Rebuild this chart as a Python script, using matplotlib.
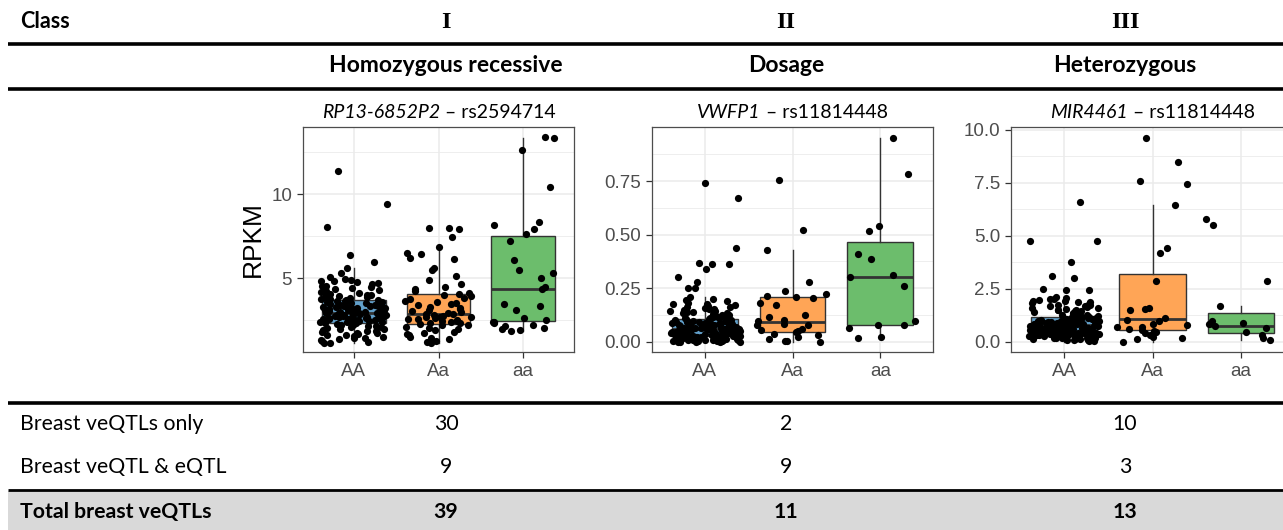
import numpy as np
import matplotlib
matplotlib.use("Agg")
import matplotlib.pyplot as plt
from matplotlib.patches import Rectangle

# ---------------- data ----------------
classes = ["I", "II", "III"]
class_names = ["Homozygous recessive", "Dosage", "Heterozygous"]
genes = ["RP13-6852P2", "VWFP1", "MIR4461"]
snps = ["rs2594714", "rs11814448", "rs11814448"]
genotypes = ["AA", "Aa", "aa"]
row_labels = ["Breast veQTLs only", "Breast veQTL & eQTL", "Total breast veQTLs"]
veqtl_only = [30, 2, 10]
veqtl_eqtl = [9, 9, 3]
veqtl_total = [39, 11, 13]

# panel 1: RP13-6852P2 - rs2594714
p1_AA = [11.4, 9.4, 8.02, 6.4, 5.97, 5.58, 5.3, 5.08, 4.95, 4.9, 4.84, 4.8, 4.74, 4.68, 4.62, 4.55,
         4.5, 4.46, 4.4, 4.33, 4.25, 4.21, 4.15, 4.1, 4.04, 4.0, 3.97, 3.92, 3.88, 3.84, 3.8, 3.76,
         3.72, 3.7, 3.66, 3.63, 3.61, 3.58, 3.55, 3.52, 3.5, 3.47, 3.44, 3.41, 3.38, 3.36, 3.33, 3.3,
         3.28, 3.25, 3.22, 3.2, 3.18, 3.15, 3.12, 3.1, 3.08, 3.05, 3.02, 3.0, 2.98, 2.96, 2.94, 2.91,
         2.89, 2.87, 2.85, 2.83, 2.8, 2.78, 2.76, 2.74, 2.72, 2.7, 2.68, 2.66, 2.64, 2.62, 2.6, 2.58,
         2.56, 2.54, 2.52, 2.5, 2.48, 2.46, 2.44, 2.42, 2.4, 2.38, 2.36, 2.34, 2.31, 2.28, 2.25, 2.22,
         2.19, 2.16, 2.13, 2.1, 2.06, 2.02, 1.98, 1.94, 1.9, 1.86, 1.82, 1.78, 1.74, 1.7, 1.66, 1.62,
         1.58, 1.54, 1.5, 1.45, 1.4, 1.35, 1.3, 1.25, 1.2, 1.15, 1.12, 3.35, 2.9, 3.05, 2.65, 4.3]
p1_Aa = [8.0, 7.97, 7.9, 7.45, 6.83, 6.47, 6.41, 6.17, 6.12, 5.61, 5.45, 5.1, 4.9, 4.66, 4.45, 4.32,
         4.2, 4.12, 4.06, 3.98, 3.9, 3.82, 3.72, 3.6, 3.55, 3.45, 3.38, 3.3, 3.22, 3.15, 3.08, 3.02,
         2.96, 2.9, 2.87, 2.84, 2.8, 2.75, 2.7, 2.66, 2.62, 2.58, 2.53, 2.49, 2.45, 2.41, 2.37, 2.33,
         2.29, 2.26, 2.22, 2.17, 2.1, 2.02, 1.95, 1.88, 1.8, 1.72, 1.65, 1.58, 1.5, 1.42, 1.35, 1.27,
         1.2, 1.12, 2.7, 3.5]
p1_aa = [13.4, 13.35, 12.6, 10.4, 8.35, 8.15, 7.93, 7.6, 7.22, 6.05, 5.45, 5.3, 5.02, 4.45, 4.35,
         3.45, 3.35, 3.08, 2.6, 2.5, 2.4, 2.36, 2.3, 2.2, 2.12, 2.04, 1.95, 1.88, 1.82]
p1_stats = [(1.12, 2.32, 2.92, 3.69, 5.58), (1.12, 2.26, 2.86, 4.05, 6.8), (1.82, 2.44, 4.35, 7.52, 13.35)]

# panel 2: VWFP1 - rs11814448
p2_AA = [0.743, 0.67, 0.438, 0.369, 0.365, 0.362, 0.34, 0.304, 0.278, 0.253, 0.25, 0.208, 0.2, 0.197,
         0.19, 0.183, 0.178, 0.172, 0.166, 0.161, 0.157, 0.152, 0.148, 0.145, 0.141, 0.137, 0.134, 0.13,
         0.127, 0.124, 0.121, 0.118, 0.116, 0.113, 0.111, 0.109, 0.175, 0.155, 0.132, 0.119, 0.142, 0.163,
         0.105, 0.104, 0.102, 0.1, 0.099, 0.097, 0.095, 0.094, 0.092, 0.09, 0.089, 0.087, 0.086, 0.084,
         0.083, 0.081, 0.08, 0.078, 0.077, 0.075, 0.074, 0.073, 0.072, 0.07, 0.069, 0.068, 0.067, 0.066,
         0.065, 0.064, 0.063, 0.062, 0.061, 0.06, 0.085, 0.091, 0.079, 0.071, 0.098, 0.088, 0.066, 0.076,
         0.059, 0.058, 0.057, 0.056, 0.055, 0.054, 0.053, 0.052, 0.051, 0.05, 0.049, 0.048, 0.047, 0.046,
         0.045, 0.044, 0.043, 0.042, 0.041, 0.04, 0.039, 0.038, 0.037, 0.036, 0.035, 0.034, 0.033, 0.032,
         0.031, 0.03, 0.029, 0.028, 0.044, 0.05, 0.038, 0.055, 0.041, 0.047, 0.033, 0.052, 0.036, 0.058,
         0.027, 0.026, 0.025, 0.024, 0.023, 0.022, 0.021, 0.02, 0.019, 0.018, 0.017, 0.016, 0.015, 0.014,
         0.013, 0.012, 0.011, 0.01, 0.009, 0.008, 0.007, 0.006, 0.005, 0.004, 0.003, 0.002, 0.001, 0.0,
         0.0, 0.0, 0.012, 0.02, 0.006, 0.015, 0.003, 0.025, 0.009, 0.017, 0.001, 0.022, 0.004, 0.013]
p2_Aa = [0.755, 0.523, 0.427, 0.281, 0.238, 0.222, 0.215, 0.21, 0.205, 0.18, 0.17, 0.125, 0.115, 0.1,
         0.095, 0.085, 0.08, 0.078, 0.06, 0.055, 0.05, 0.045, 0.035, 0.03, 0.02, 0.012, 0.005, 0.002, 0.0]
p2_aa = [0.953, 0.785, 0.541, 0.517, 0.411, 0.386, 0.31, 0.304, 0.262, 0.099, 0.078, 0.076, 0.064, 0.02, 0.018]
p2_stats = [(0.0, 0.028, 0.06, 0.107, 0.208), (0.0, 0.047, 0.093, 0.21, 0.427), (0.018, 0.079, 0.303, 0.466, 0.953)]

# panel 3: MIR4461 - rs11814448
p3_AA = [6.59, 4.74, 4.74, 3.77, 3.1, 3.0, 2.5, 2.47, 2.45, 2.1, 2.05, 2.02, 2.0, 1.98, 1.95, 1.92, 1.88,
         1.85, 1.8, 1.76, 1.72, 1.68, 1.64, 1.6, 1.56, 1.52, 1.48, 1.45, 1.42, 1.38, 1.35, 1.32, 1.29,
         1.26, 1.23, 1.2, 1.9, 1.7, 1.5, 1.3, 1.62, 1.44,
         1.16, 1.15, 1.13, 1.12, 1.1, 1.09, 1.07, 1.06, 1.04, 1.03, 1.01, 1.0, 0.99, 0.98, 0.97, 0.96,
         0.95, 0.94, 0.93, 0.92, 0.91, 0.9, 0.89, 0.88, 0.87, 0.86, 0.85, 0.84, 0.83, 0.82, 0.81, 0.8,
         0.95, 1.05, 0.9, 1.1, 0.86, 1.0, 1.14, 0.92, 1.08, 0.84,
         0.79, 0.78, 0.77, 0.76, 0.75, 0.74, 0.73, 0.72, 0.71, 0.7, 0.69, 0.68, 0.67, 0.66, 0.65, 0.64,
         0.63, 0.62, 0.61, 0.6, 0.59, 0.58, 0.57, 0.56, 0.55, 0.54, 0.53, 0.52, 0.51, 0.5, 0.49, 0.48,
         0.6, 0.7, 0.65, 0.55, 0.77, 0.52, 0.68, 0.58, 0.73, 0.62,
         0.46, 0.45, 0.44, 0.43, 0.42, 0.41, 0.4, 0.39, 0.38, 0.37, 0.36, 0.35, 0.34, 0.33, 0.32, 0.31,
         0.3, 0.29, 0.28, 0.27, 0.26, 0.25, 0.24, 0.22, 0.2, 0.18, 0.16, 0.14, 0.12, 0.1, 0.08, 0.06,
         0.05, 0.3, 0.2, 0.4, 0.15, 0.25, 0.35, 0.11, 0.19, 0.28]
p3_Aa = [9.64, 8.48, 7.6, 7.45, 6.46, 4.44, 4.21, 2.88, 1.58, 1.56, 1.5, 1.14, 1.05, 1.0, 0.85, 0.8,
         0.72, 0.7, 0.6, 0.55, 0.5, 0.45, 0.4, 0.3, 0.25, 0.2, 0.15, 0.0]
p3_aa = [5.82, 5.52, 2.85, 1.71, 0.98, 0.9, 0.83, 0.75, 0.66, 0.45, 0.34, 0.17, 0.09]
p3_stats = [(0.0, 0.47, 0.80, 1.17, 2.1), (0.0, 0.56, 1.08, 3.19, 6.46), (0.09, 0.42, 0.75, 1.36, 1.71)]

panels = [
    dict(groups=[p1_AA, p1_Aa, p1_aa], stats=p1_stats, ylim=(0.59, 14.0),
         ticks=[5, 10], labels=["5", "10"], minor=[2.5, 7.5, 12.5]),
    dict(groups=[p2_AA, p2_Aa, p2_aa], stats=p2_stats, ylim=(-0.048, 1.003),
         ticks=[0, 0.25, 0.5, 0.75], labels=["0.00", "0.25", "0.50", "0.75"],
         minor=[0.125, 0.375, 0.625, 0.875]),
    dict(groups=[p3_AA, p3_Aa, p3_aa], stats=p3_stats, ylim=(-0.48, 10.14),
         ticks=[0, 2.5, 5, 7.5, 10], labels=["0.0", "2.5", "5.0", "7.5", "10.0"],
         minor=[1.25, 3.75, 6.25, 8.75]),
]

# ---------------- layout ----------------
W, H = 1283, 530
fig = plt.figure(figsize=(W / 100, H / 100), dpi=100)
fig.patch.set_facecolor("white")

ax0 = fig.add_axes([0, 0, 1, 1], zorder=0)
ax0.set_xlim(0, W)
ax0.set_ylim(H, 0)
ax0.axis("off")

TXT = "Lato"
box_colors = ["#62a0ca", "#ffa556", "#6cbd6c"]
col_x = [446, 786, 1125]

# header row
ax0.text(20, 22, "Class", fontsize=15.5, fontweight="bold", family=TXT, ha="left", va="center")
for x, c in zip(col_x, classes):
    ax0.text(x, 22, c, fontsize=17.5, fontweight="bold", family="Liberation Serif", ha="center", va="center")
ax0.plot([8, W], [44, 44], color="black", lw=2.6, solid_capstyle="butt")
for x, c in zip(col_x, class_names):
    ax0.text(x, 66, c, fontsize=16.5, fontweight="bold", family=TXT, ha="center", va="center")
ax0.plot([8, W], [89, 89], color="black", lw=2.6, solid_capstyle="butt")

# table bottom
ax0.plot([8, W], [403, 403], color="black", lw=2.6, solid_capstyle="butt")
ax0.add_patch(Rectangle((8, 491), W - 8, H - 491, facecolor="#d9d9d9", edgecolor="none"))
ax0.plot([8, W], [490, 490], color="black", lw=2.0, solid_capstyle="butt")
FS = 15.3
ax0.text(20, 424, row_labels[0], fontsize=FS, family=TXT, ha="left", va="center")
ax0.text(20, 467, row_labels[1], fontsize=FS, family=TXT, ha="left", va="center")
ax0.text(20, 512, row_labels[2], fontsize=FS, fontweight="bold", family=TXT, ha="left", va="center")
for x, a, b, t in zip(col_x, veqtl_only, veqtl_eqtl, veqtl_total):
    ax0.text(x, 424, str(a), fontsize=FS, family=TXT, ha="center", va="center")
    ax0.text(x, 467, str(b), fontsize=FS, family=TXT, ha="center", va="center")
    ax0.text(x, 512, str(t), fontsize=FS, fontweight="bold", family=TXT, ha="center", va="center")

# plot panels
axes_px = [(303, 574), (652, 933), (1011, 1294)]
top, bottom = 127, 352


def jitter(n, seed):
    i = np.arange(n) + seed * 1000
    v = np.sin(i * 12.9898 + seed * 78.233) * 43758.5453
    return (v - np.floor(v) - 0.5) * 0.8


for k, (p, (l, r)) in enumerate(zip(panels, axes_px)):
    ax = fig.add_axes([l / W, 1 - bottom / H, (r - l) / W, (bottom - top) / H], zorder=2)
    stats = [dict(whislo=s[0], q1=s[1], med=s[2], q3=s[3], whishi=s[4], fliers=[]) for s in p["stats"]]
    bp = ax.bxp(stats, positions=[1, 2, 3], widths=0.75, patch_artist=True, showcaps=False,
                showfliers=False, manage_ticks=False,
                boxprops=dict(edgecolor="#333333", linewidth=1.0),
                medianprops=dict(color="#333333", linewidth=2.0),
                whiskerprops=dict(color="#333333", linewidth=1.0), zorder=2)
    for patch, c in zip(bp["boxes"], box_colors):
        patch.set_facecolor(c)
    for g, vals in enumerate(p["groups"]):
        vals = np.asarray(vals)
        xs = (g + 1) + jitter(len(vals), k * 3 + g + 1)
        ax.plot(xs, vals, "o", color="black", ms=5.2, mew=0, zorder=3, clip_on=True)

    ax.set_xlim(0.4, 3.6)
    ax.set_ylim(*p["ylim"])
    ax.set_facecolor("white")
    for s in ax.spines.values():
        s.set_color("#4d4d4d")
        s.set_linewidth(0.9)
    ax.set_yticks(p["ticks"])
    ax.set_yticklabels(p["labels"])
    ax.set_yticks(p["minor"], minor=True)
    ax.set_xticks([1, 2, 3])
    ax.set_xticklabels(genotypes)
    ax.grid(True, which="major", color="#ebebeb", lw=1.1, zorder=0)
    ax.grid(True, which="minor", axis="y", color="#ebebeb", lw=0.6, zorder=0)
    ax.set_axisbelow(True)
    ax.tick_params(axis="both", which="major", direction="out", length=4.3, width=0.9,
                   color="#333333", labelcolor="#4d4d4d", labelsize=13.5, pad=3.5)
    ax.tick_params(which="minor", length=0)
    for lab in ax.get_xticklabels() + ax.get_yticklabels():
        lab.set_family("Liberation Sans")

# y label
ax0.text(253, 239, "RPKM", rotation=90, fontsize=19, family="Liberation Sans", ha="center", va="center")

# panel titles (italic gene + regular snp)
fig.canvas.draw()
renderer = fig.canvas.get_renderer()
for (l, r), g, s in zip(axes_px, genes, snps):
    xc = (l + r) / 2
    t1 = ax0.text(0, 112, g, fontsize=14, style="italic", family=TXT, ha="left", va="center")
    t2 = ax0.text(0, 112, " \u2013 " + s, fontsize=14, family=TXT, ha="left", va="center")
    w1 = t1.get_window_extent(renderer).width
    w2 = t2.get_window_extent(renderer).width
    x0 = xc - (w1 + w2) / 2
    t1.set_x(x0)
    t2.set_x(x0 + w1)

fig.savefig("out.png", dpi=100)
